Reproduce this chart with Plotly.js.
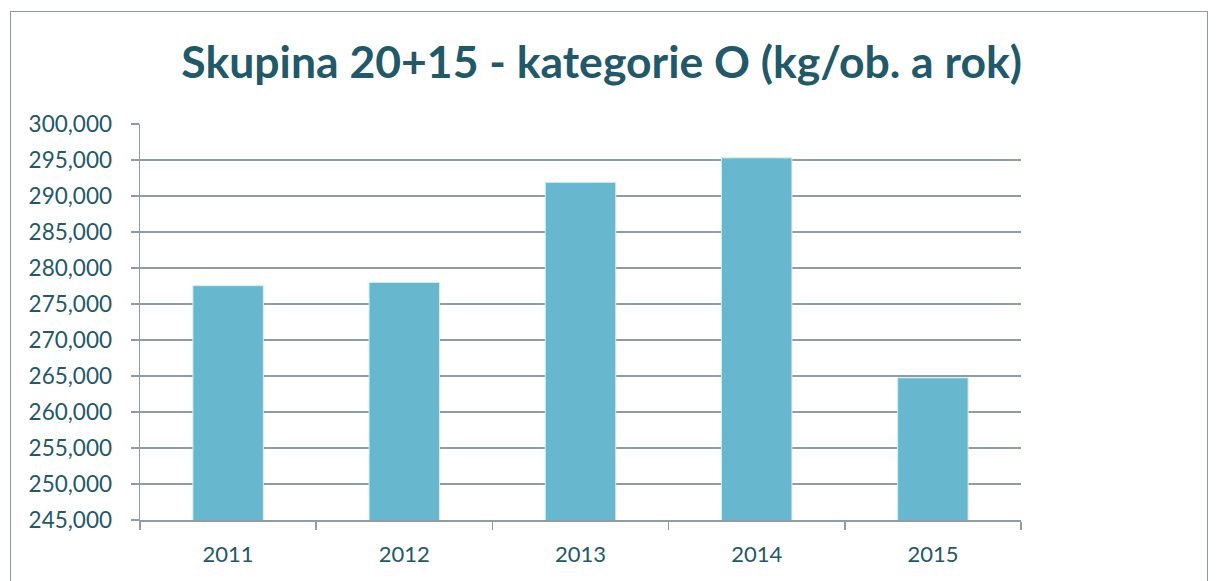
<!DOCTYPE html>
<html>
<head>
<meta charset="utf-8">
<script src="https://cdn.plot.ly/plotly-3.0.1.min.js"></script>
<style>
html,body{margin:0;padding:0;background:#fff;overflow:hidden;}
#chart{width:1218px;height:581px;position:absolute;left:0;top:0;}
#frame{position:absolute;left:10px;top:11px;width:1196px;height:620px;border:1.5px solid #8e9aa0;pointer-events:none;}
</style>
</head>
<body>
<div id="chart"></div>
<div id="frame"></div>
<script>
const categories = ["2011", "2012", "2013", "2014", "2015"];
const values = [277550, 278000, 291900, 295300, 264750];
const titleText = "Skupina 20+15 - kategorie O (kg/ob. a rok)";

const textColor = "#215968";
const gridColor = "#8f9ca3";

Plotly.newPlot("chart", [{
  type: "bar",
  x: categories,
  y: values,
  marker: {color: "#67b7cf", line: {color: "#d6eef5", width: 1}},
  hoverinfo: "x+y"
}], {
  width: 1218,
  height: 581,
  paper_bgcolor: "#ffffff",
  plot_bgcolor: "#ffffff",
  margin: {l: 140, r: 197, t: 124, b: 61},
  bargap: 0.6,
  showlegend: false,
  title: {
    text: "<b>" + titleText + "</b>",
    x: 0.494, xanchor: "center", xref: "container",
    y: 63, yref: "container", yanchor: "middle",
    font: {family: "Lato, 'Open Sans', sans-serif", size: 44.5, color: textColor}
  },
  font: {family: "Lato, 'Open Sans', sans-serif", color: textColor},
  xaxis: {
    type: "category",
    showgrid: false,
    showline: true, linecolor: gridColor, linewidth: 1.5,
    ticks: "outside", tickson: "boundaries", ticklen: 8, tickwidth: 1.5, tickcolor: gridColor,
    ticklabelstandoff: 14,
    tickfont: {size: 22, color: textColor},
    zeroline: false
  },
  yaxis: {
    range: [245000, 300000],
    dtick: 5000, tick0: 245000,
    tickformat: ",.0f",
    showgrid: true, gridcolor: gridColor, gridwidth: 1.5,
    showline: true, linecolor: gridColor, linewidth: 1.5,
    ticks: "outside", ticklen: 8, tickwidth: 1.5, tickcolor: gridColor,
    ticklabelstandoff: 14,
    tickfont: {size: 22.5, color: textColor},
    zeroline: false
  }
}, {displayModeBar: false, staticPlot: true});
</script>
</body>
</html>
